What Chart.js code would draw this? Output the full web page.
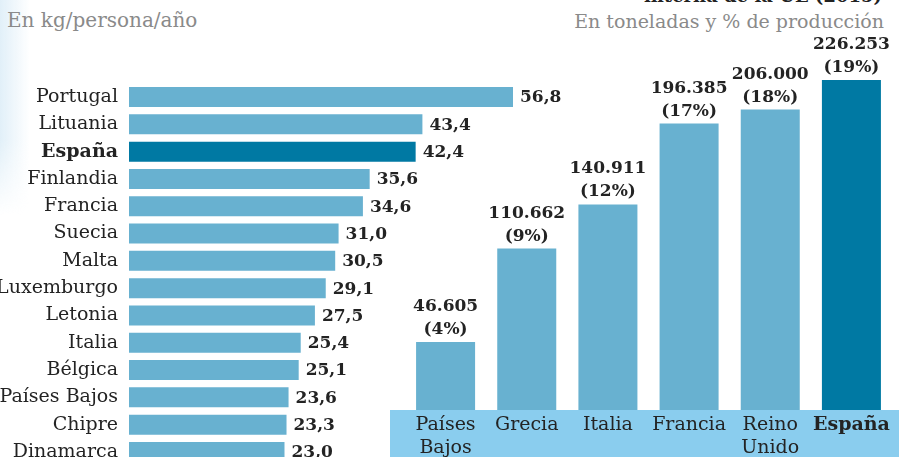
<!DOCTYPE html>
<html lang="es">
<head>
<meta charset="utf-8">
<script src="https://cdn.jsdelivr.net/npm/chart.js@4/dist/chart.umd.min.js"></script>
<style>
  html, body { margin: 0; padding: 0; width: 899px; height: 457px; overflow: hidden; background: #fff; }
  body { position: relative; font-family: "DejaVu Serif", serif; }
  .glow { position: absolute; left: 0; top: 0; width: 30px; height: 215px;
          background: linear-gradient(to right, rgba(218,236,247,0.8), rgba(255,255,255,0));
          -webkit-mask-image: linear-gradient(to bottom, #000 65%, transparent);
          mask-image: linear-gradient(to bottom, #000 65%, transparent); }
  .sub { position: absolute; color: #8a8a8a; white-space: nowrap; }
  #subLeft { left: 7px; top: 8px; font-size: 20px; }
  #subRight { right: 15px; top: 10px; font-size: 19px; }
  #titleRight { position: absolute; right: 17px; top: -15px; font-size: 18px; font-weight: bold; color: #222; white-space: nowrap; }
  #leftWrap { position: absolute; left: 0; top: 61px; width: 580px; height: 427px; }
  #rightWrap { position: absolute; left: 390px; top: 0; width: 509px; height: 457px; }
</style>
</head>
<body>
<div class="glow"></div>
<div id="titleRight">interna de la UE (2015)</div>
<div class="sub" id="subLeft">En kg/persona/año</div>
<div class="sub" id="subRight">En toneladas y % de producción</div>
<div id="leftWrap"><canvas id="consumoChart" width="580" height="427"></canvas></div>
<div id="rightWrap"><canvas id="produccionChart" width="509" height="457"></canvas></div>

<script>
// consumo por persona (kg/persona/año)
const consumoPaises = ['Portugal', 'Lituania', 'España', 'Finlandia', 'Francia', 'Suecia', 'Malta',
    'Luxemburgo', 'Letonia', 'Italia', 'Bélgica', 'Países Bajos', 'Chipre', 'Dinamarca'];
const consumoKg = [56.8, 43.4, 42.4, 35.6, 34.6, 31.0, 30.5, 29.1, 27.5, 25.4, 25.1, 23.6, 23.3, 23.0];

// producción (toneladas y % de producción)
const produccionPaises = [['Países', 'Bajos'], 'Grecia', 'Italia', 'Francia', ['Reino', 'Unido'], 'España'];
const produccionToneladas = [46605, 110662, 140911, 196385, 206000, 226253];
const produccionPct = [4, 9, 12, 17, 18, 19];

const LIGHT = '#68b1d0';
const DARK = '#0079a3';
const TEXT = '#232323';
const SERIF = '"DejaVu Serif", serif';

function formatDecimal(v) {
    return v.toFixed(1).replace('.', ',');
}

function formatThousands(v) {
    return String(v).replace(/\B(?=(\d{3})+(?!\d))/g, '.');
}

const consumoLabels = {
    id: 'consumoLabels',
    afterDatasetsDraw(chart) {
        const ctx = chart.ctx;
        const meta = chart.getDatasetMeta(0);
        ctx.save();
        ctx.font = 'bold 17px ' + SERIF;
        ctx.fillStyle = TEXT;
        ctx.textAlign = 'left';
        ctx.textBaseline = 'middle';
        meta.data.forEach((bar, i) => {
            ctx.fillText(formatDecimal(consumoKg[i]), bar.x + 7, bar.y + 1);
        });
        ctx.restore();
    }
};

new Chart(document.getElementById('consumoChart'), {
    type: 'bar',
    data: {
        labels: consumoPaises,
        datasets: [{
            data: consumoKg,
            backgroundColor: consumoPaises.map(p => p === 'España' ? DARK : LIGHT),
            barPercentage: 0.732,
            categoryPercentage: 1
        }]
    },
    options: {
        indexAxis: 'y',
        responsive: false,
        animation: false,
        layout: { padding: { top: 0, bottom: 0, left: 0, right: 67 } },
        plugins: { legend: { display: false }, tooltip: { enabled: false } },
        scales: {
            x: { display: false, min: 0, max: Math.max(...consumoKg) },
            y: {
                afterFit: s => { s.width = 129; },
                grid: { display: false, drawTicks: false },
                border: { display: false },
                ticks: {
                    padding: 11,
                    color: TEXT,
                    font: c => ({ family: SERIF, size: 19, weight: c.index === 2 ? 'bold' : 'normal' })
                }
            }
        }
    },
    plugins: [consumoLabels]
});

const produccionDeco = {
    id: 'produccionDeco',
    beforeDraw(chart) {
        const ctx = chart.ctx;
        const bottom = chart.chartArea.bottom;
        ctx.save();
        ctx.fillStyle = '#8acdee';
        ctx.fillRect(0, bottom, chart.width, chart.height - bottom);
        ctx.restore();
    },
    afterDatasetsDraw(chart) {
        const ctx = chart.ctx;
        const meta = chart.getDatasetMeta(0);
        ctx.save();
        ctx.font = 'bold 17px ' + SERIF;
        ctx.fillStyle = TEXT;
        ctx.textAlign = 'center';
        ctx.textBaseline = 'alphabetic';
        meta.data.forEach((bar, i) => {
            ctx.fillText(formatThousands(produccionToneladas[i]), bar.x, bar.y - 31);
            ctx.fillText('(' + produccionPct[i] + '%)', bar.x, bar.y - 8);
        });
        ctx.restore();
    }
};

new Chart(document.getElementById('produccionChart'), {
    type: 'bar',
    data: {
        labels: produccionPaises,
        datasets: [{
            data: produccionToneladas,
            backgroundColor: produccionToneladas.map((v, i) => i === 5 ? DARK : LIGHT),
            barPercentage: 0.727,
            categoryPercentage: 1
        }]
    },
    options: {
        responsive: false,
        animation: false,
        layout: { padding: { top: 80, bottom: 0, left: 15, right: 7 } },
        plugins: { legend: { display: false }, tooltip: { enabled: false } },
        scales: {
            y: { display: false, min: 0, max: Math.max(...produccionToneladas) },
            x: {
                afterFit: s => { s.height = 47; },
                grid: { display: false, drawTicks: false },
                border: { display: false },
                ticks: {
                    padding: 3,
                    color: TEXT,
                    maxRotation: 0,
                    autoSkip: false,
                    font: c => ({ family: SERIF, size: 19, lineHeight: 1.22, weight: c.index === 5 ? 'bold' : 'normal' })
                }
            }
        }
    },
    plugins: [produccionDeco]
});
</script>
</body>
</html>
